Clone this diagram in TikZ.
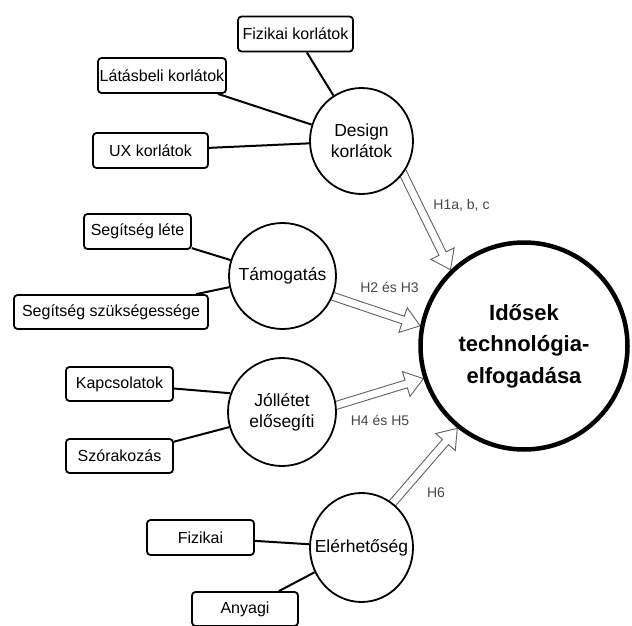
\documentclass[tikz,border=0pt]{standalone}
\usepackage{fontspec}
\setmainfont{Liberation Sans}
\usetikzlibrary{shapes.geometric,calc,backgrounds}
\newcommand\hollowarrow[2]{%
  \path[hollow] let \p1=(#1), \p2=(#2),
    \n1={atan2(\y2-\y1,\x2-\x1)}, \n2={veclen(\x2-\x1,\y2-\y1)} in
    [shift={(\p1)}, rotate=\n1]
    (0pt,-4pt) -- ({\n2-18pt},-4pt) -- ({\n2-18pt},-13pt) -- ({\n2+0pt},0pt)
    -- ({\n2-18pt},13pt) -- ({\n2-18pt},4pt) -- (0pt,4pt) -- cycle;}
\begin{document}
\begin{tikzpicture}[x=1pt,y=-1pt,
  box/.style={draw, line width=1.8pt, rounded corners=3.5pt, inner sep=0pt, fill=white,
    font=\fontsize{16}{19}\selectfont},
  ell/.style={draw, ellipse, line width=1.8pt, inner xsep=-20pt, inner ysep=0pt, fill=white,
    align=center, font=\fontsize{17.5}{21}\selectfont},
  link/.style={line width=2pt},
  hyp/.style={text=black!72, font=\fontsize{14}{16}\selectfont},
  hollow/.style={draw=black!62, line width=0.9pt, fill=white, line join=miter}
]
\useasboundingbox (0,0) rectangle (632,626);

% boxes
\node[box, minimum width=115pt, minimum height=35pt] (fiz) at (295.5,34) {Fizikai korlátok};
\node[box, minimum width=128pt, minimum height=35pt] (lat) at (162,75.5) {Látásbeli korlátok};
\node[box, minimum width=115pt, minimum height=35pt] (ux) at (150.5,150.5) {UX korlátok};
\node[box, minimum width=107pt, minimum height=35pt] (sl) at (137.5,231.5) {Segítség léte};
\node[box, minimum width=194pt, minimum height=34pt] (ssz) at (111,312) {Segítség szükségessége};
\node[box, minimum width=107pt, minimum height=34pt] (kap) at (119.5,384) {Kapcsolatok};
\node[box, minimum width=107pt, minimum height=34pt] (szo) at (119.5,456) {Szórakozás};
\node[box, minimum width=107pt, minimum height=35pt] (fizi) at (200.5,537.5) {Fizikai};
\node[box, minimum width=106pt, minimum height=34pt] (any) at (245,609) {Anyagi};

% ellipses
\node[ell, minimum width=103pt, minimum height=106pt] (design) at (361.5,141) {Design\\korlátok};
\node[ell, minimum width=107pt, minimum height=106pt] (tam) at (282.5,276) {Támogatás};
\node[ell, minimum width=108pt, minimum height=108pt] (jol) at (282,412) {Jóllétet\\elősegíti};
\node[ell, minimum width=103pt, minimum height=109pt] (ele) at (361.5,547.5) {Elérhetőség};
\node[draw, circle, line width=4.5pt, minimum size=207pt, inner sep=0pt, fill=white, align=center,
  font=\bfseries\fontsize{22}{31.5}\selectfont] (big) at (524,346) {Idősek\\technológia-\\elfogadása};

% links
\draw[link] (fiz) -- (design);
\draw[link] (lat) -- (design);
\draw[link] (ux) -- (design);
\draw[link] (sl) -- (tam);
\draw[link] (ssz) -- (tam);
\draw[link] (kap) -- (jol.160);
\draw[link] (szo) -- (jol.196);
\draw[link] (fizi) -- (ele);
\draw[link] (any) -- (ele);

% hollow arrows
\coordinate (h1s) at ($(design.-38)!-3pt!(big.134)$);
\coordinate (h2s) at ($(tam.-22)!-3pt!(big.169)$);
\coordinate (h4s) at ($(jol.7)!-3pt!(big.198)$);
\coordinate (h6s) at ($(ele.55)!-3pt!(big.231)$);
\begin{scope}[on background layer]
\fill[white] (0,0) rectangle (632,626);
\hollowarrow{h1s}{big.134}
\hollowarrow{h2s}{big.169}
\hollowarrow{h4s}{big.198}
\hollowarrow{h6s}{big.231}
\end{scope}

% labels
\node[hyp] (l1) at (461.5,205) {H1a, b, c};
\node[hyp] (l2) at (389.5,287) {H2 és H3};
\node[hyp] (l3) at (380,420) {H4 és H5};
\node[hyp] (l4) at (436,493) {H6};
\end{tikzpicture}
\end{document}
